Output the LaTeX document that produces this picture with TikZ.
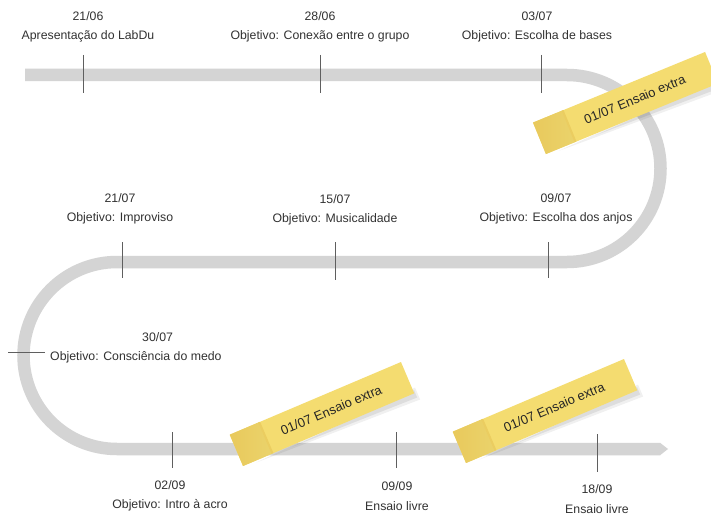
\documentclass[tikz,border=0pt]{standalone}
\usepackage{fontspec}
\setmainfont{Liberation Sans}
\begin{document}
\definecolor{roadgray}{RGB}{212,212,212}
\definecolor{tickgray}{RGB}{95,95,95}
\definecolor{inkgray}{RGB}{50,50,50}
\definecolor{noteyellow}{RGB}{244,220,112}
\definecolor{notestrip}{RGB}{233,201,92}
\tikzset{
  road/.style={draw=roadgray, line width=12.5pt},
  tickline/.style={draw=tickgray, line width=0.7pt},
  milestone/.style={align=center, text=inkgray, font=\fontsize{12.3}{19.5}\selectfont, inner sep=0pt},
  notetext/.style={text=black!85, font=\fontsize{13}{14}\selectfont, inner sep=0pt},
}
\begin{tikzpicture}[x=1pt,y=1pt]
\useasboundingbox (0,0) rectangle (711,515);
\fill[white] (0,0) rectangle (711,515);

% winding road
\coordinate (start) at (25,440);
\coordinate (endpt) at (660,66);
\draw[road] (start) -- (567,440) arc[start angle=90,end angle=-90,radius=93.5]
  -- (117,253) arc[start angle=90,end angle=270,radius=93.5] -- (endpt);
\fill[roadgray] ([yshift=6.25]endpt) -- ([xshift=8]endpt) -- ([yshift=-6.25]endpt) -- cycle;

% milestone ticks
\foreach \n/\x/\ya/\yb in {t1/83/460/422, t2/320/460/422, t3/541/460/422,
    t4/122/273/237, t5/335/273/235, t6/548/273/237,
    t8/172/83/47, t9/396/83/47, t10/597/81/43}{
  \coordinate (\n a) at (\x,\ya);
  \coordinate (\n b) at (\x,\yb);
  \draw[tickline] (\n a) -- (\n b);
}
\coordinate (t7a) at (8,163);
\coordinate (t7b) at (45,163);
\draw[tickline] (t7a) -- (t7b);

% milestone labels
\node[milestone] (m1) at (88,488) {21/06\\Apresentação do LabDu};
\node[milestone] (m2) at (320,488) {28/06\\Objetivo: Conexão entre o grupo};
\node[milestone] (m3) at (537,488) {03/07\\Objetivo: Escolha de bases};
\node[milestone] (m4) at (120,306) {21/07\\Objetivo: Improviso};
\node[milestone] (m5) at (335,305) {15/07\\Objetivo: Musicalidade};
\node[milestone] (m6) at (556,306) {09/07\\Objetivo: Escolha dos anjos};
\node[milestone, align=left, anchor=west] (m7) at (50,167) {\hspace*{92pt}30/07\\Objetivo: Consciência do medo};
\node[milestone] (m8) at (170,19) {02/09\\Objetivo: Intro à acro};
\node[milestone] (m9) at (397,19) {09/09\\Ensaio livre};
\node[milestone] (m10) at (597,16) {18/09\\Ensaio livre};

% sticky notes
\foreach \n/\cx/\cy/\ang in {n1/625.5/412/22.3, n2/322/101/23, n3/545/104/23}{
  \begin{scope}[shift={(\cx,\cy)}, rotate=\ang]
    \fill[black, opacity=0.06] (-80,-19) -- (96,-25) -- (96,-12) -- cycle;
    \fill[black, opacity=0.08] (-40,-18.5) -- (94,-22) -- (94,-14) -- cycle;
    \fill[noteyellow] (-93,-17) rectangle (93,17);
    \shade[left color=notestrip, right color=noteyellow!96!black] (-93,-17) rectangle (-61,17);
    \fill[notestrip!80!noteyellow] (-62,-17) rectangle (-60,17);
    \node[notetext, rotate=\ang] (\n) at (10,0) {01/07 Ensaio extra};
  \end{scope}
}
\end{tikzpicture}
\end{document}
